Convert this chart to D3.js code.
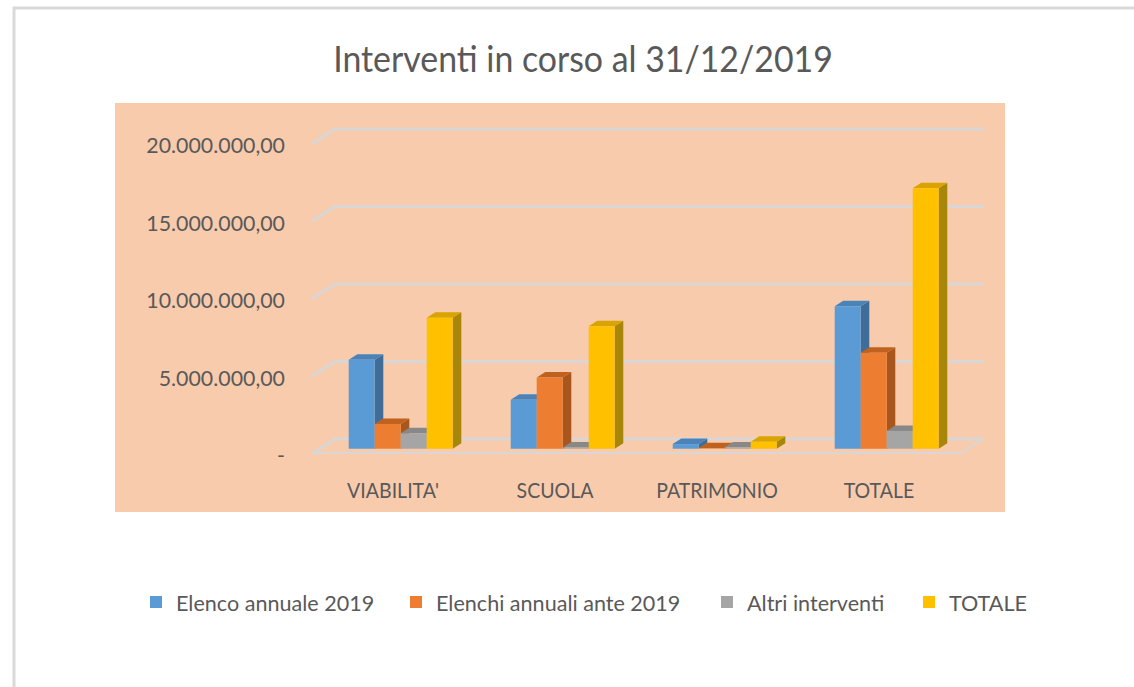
<!DOCTYPE html>
<html><head><meta charset="utf-8">
<script src="https://cdn.jsdelivr.net/npm/d3@7"></script>
<style>
body{margin:0;background:#fff;}
svg{display:block;font-family:Lato,"Open Sans",sans-serif;}
</style></head>
<body><svg id="c" width="1134" height="687"></svg>
<script>
const categories = ["VIABILITA'", "SCUOLA", "PATRIMONIO", "TOTALE"];
const seriesNames = ["Elenco annuale 2019", "Elenchi annuali ante 2019", "Altri interventi", "TOTALE"];
const elencoAnnuale2019   = [5740000, 3160000, 300000, 9200000];
const elenchiAnte2019     = [1600000, 4600000, 40000, 6200000];
const altriInterventi     = [1000000, 80000, 90000, 1150000];
const totale              = [8450000, 7900000, 450000, 16800000];
const yTicks = [0, 5000000, 10000000, 15000000, 20000000];
const yTickLabels = ["-", "5.000.000,00", "10.000.000,00", "15.000.000,00", "20.000.000,00"];
const title = "Interventi in corso al 31/12/2019";

const seriesValues = [elencoAnnuale2019, elenchiAnte2019, altriInterventi, totale];
const colors = ["#5b9bd5", "#ed7d31", "#a5a5a5", "#ffc000"];
const topCol = ["#4a83ba", "#c0621f", "#888888", "#d9a300"];
const sideCol = ["#3f6d9a", "#a9561c", "#7a7a7a", "#a8860a"];

const svg = d3.select("#c");
const TXT = "#595959";

// outer frame
svg.append("rect").attr("x", 14).attr("y", 8).attr("width", 1140).attr("height", 700)
  .attr("fill", "#fff").attr("stroke", "#d9d9d9").attr("stroke-width", 3);

// plot area fill
svg.append("rect").attr("x", 115).attr("y", 103).attr("width", 890).attr("height", 409)
  .attr("fill", "#f8cbad");

function squeeze(sel, ratio) {
  sel.each(function() {
    const w = this.getComputedTextLength();
    d3.select(this).attr("textLength", w * ratio).attr("lengthAdjust", "spacingAndGlyphs");
  });
}

// title
svg.append("text").attr("x", 583).attr("y", 72).attr("text-anchor", "middle")
  .attr("font-size", 36).attr("fill", TXT).text(title).call(squeeze, 0.94);

// 3D projection
const DX = 22, DY = -14;
const x0 = d3.scaleBand().domain(categories).range([313, 961]);
const groupW = 104;
const x1 = d3.scaleBand().domain(seriesNames).range([0, groupW]);
const y = d3.scaleLinear().domain([0, 20000000]).range([453, 143]);
const P = (x, yy, z) => [x + z * DX, yy + z * DY];

const grid = svg.append("g").attr("fill", "none").attr("stroke", "#d9d6d6")
  .attr("stroke-width", 3).attr("stroke-linecap", "round");
const xl = x0.range()[0], xr = x0.range()[1];
yTicks.forEach(t => {
  const a = P(xl, y(t), 0), b = P(xl, y(t), 1), c = P(xr, y(t), 1);
  grid.append("path").attr("d", d3.line()([a, b, c]));
});
// floor front edge
grid.append("path").attr("d", d3.line()([P(xl, y(0), 0), P(xr, y(0), 0), P(xr, y(0), 1)]))
  .attr("stroke-width", 2);

// y labels
svg.append("g").selectAll("text").data(yTicks).join("text")
  .attr("x", 285).attr("y", (d) => y(d) + 10).attr("text-anchor", "end")
  .attr("font-size", 22).attr("fill", TXT)
  .text((d, i) => yTickLabels[i]).call(squeeze, 0.97);

// bars
const z0 = 0.305, z1 = 0.695;
const bars = [];
categories.forEach((c, ci) => {
  seriesNames.forEach((s, si) => {
    bars.push({c, s, si, v: seriesValues[si][ci]});
  });
});
const gBars = svg.append("g");
bars.forEach(b => {
  const gx = x0(b.c) + (x0.bandwidth() - groupW) / 2 + x1(b.s);
  const w = x1.bandwidth();
  const yb = y(0), yt = y(b.v);
  const fl = P(gx, yt, z0), fr = P(gx + w, yt, z0), blt = P(gx, yt, z1), brt = P(gx + w, yt, z1);
  const frb = P(gx + w, yb, z0), brb = P(gx + w, yb, z1), flb = P(gx, yb, z0);
  const g = gBars.append("g");
  g.append("path").attr("d", d3.line()([fr, brt, brb, frb]) + "Z").attr("fill", sideCol[b.si]);
  g.append("path").attr("d", d3.line()([fl, fr, brt, blt]) + "Z").attr("fill", topCol[b.si]);
  g.append("path").attr("d", d3.line()([fl, fr, frb, flb]) + "Z").attr("fill", colors[b.si]);
});

// category labels
svg.append("g").selectAll("text").data(categories).join("text")
  .attr("x", d => x0(d) + x0.bandwidth() / 2 - 1).attr("y", 498).attr("text-anchor", "middle")
  .attr("font-size", 21).attr("fill", TXT).text(d => d).call(squeeze, 0.93);

// legend
const legX = [150, 410, 721, 923];
const leg = svg.append("g");
seriesNames.forEach((s, i) => {
  leg.append("rect").attr("x", legX[i]).attr("y", 596).attr("width", 12).attr("height", 12).attr("fill", colors[i]);
  leg.append("text").attr("x", legX[i] + 26).attr("y", 611).attr("font-size", 22)
    .attr("fill", TXT).text(s).call(squeeze, 0.98);
});
</script></body></html>
